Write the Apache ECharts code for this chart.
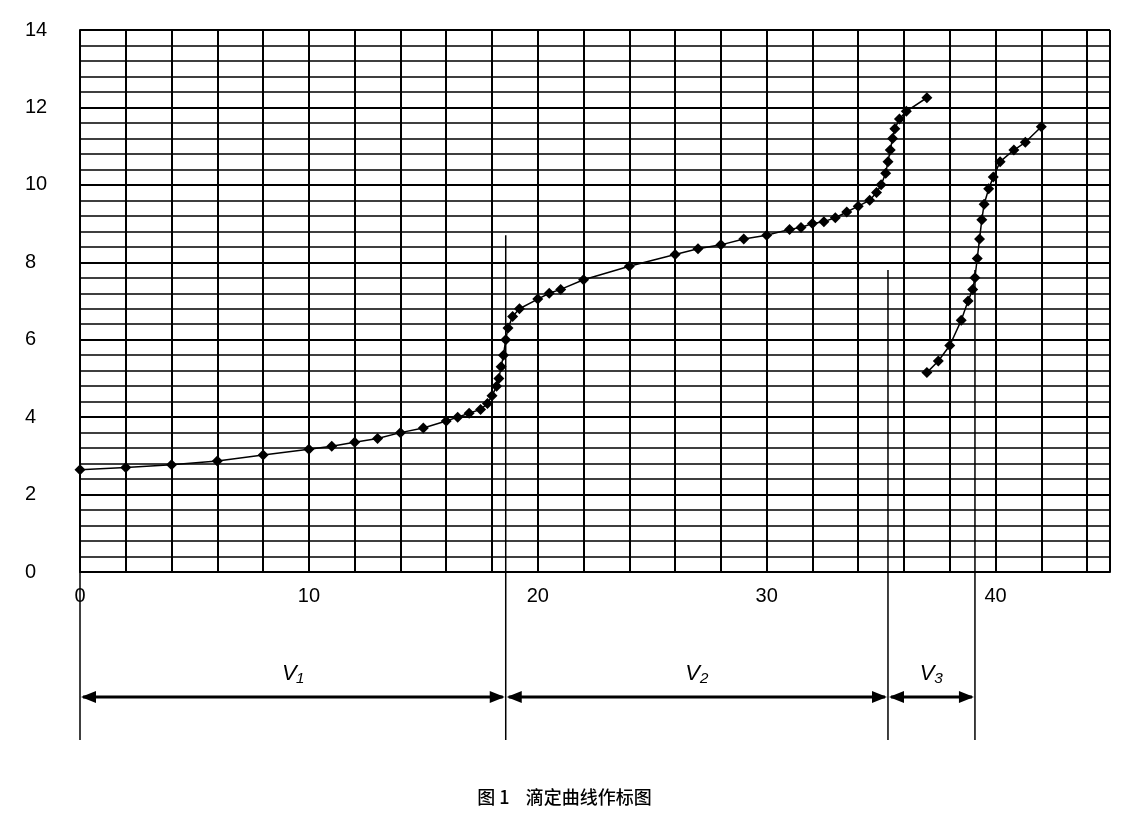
<!DOCTYPE html>
<html><head><meta charset="utf-8">
<script src="https://cdn.jsdelivr.net/npm/echarts@6/dist/echarts.min.js"></script>
<style>html,body{margin:0;padding:0;background:#fff}#c{width:1129px;height:822px}</style>
</head><body><div id="c"></div>
<script>
const curve1X=[0,2,4,6,8,10,11,12,13,14,15,16,16.5,17,17.5,17.8,18,18.2,18.3,18.4,18.5,18.6,18.7,18.9,19.2,20,20.5,21,22,24,26,27,28,29,30,31,31.5,32,32.5,33,33.5,34,34.5,34.8,35,35.2,35.3,35.4,35.5,35.6,35.8,36.1,37];
const curve1Y=[2.64,2.7,2.77,2.87,3.02,3.17,3.25,3.35,3.45,3.6,3.72,3.9,4.0,4.1,4.2,4.35,4.55,4.8,5.0,5.3,5.6,6.0,6.3,6.6,6.8,7.05,7.2,7.3,7.55,7.9,8.2,8.35,8.45,8.6,8.7,8.85,8.9,9.0,9.05,9.15,9.3,9.45,9.6,9.8,10.0,10.3,10.6,10.9,11.2,11.45,11.7,11.9,12.25];
const curve2X=[37.0,37.5,38,38.5,38.8,39,39.1,39.2,39.3,39.4,39.5,39.7,39.9,40.2,40.8,41.3,42.0];
const curve2Y=[5.15,5.45,5.85,6.5,7.0,7.3,7.6,8.1,8.6,9.1,9.5,9.9,10.2,10.6,10.9,11.1,11.5];
const xTicks=[0,10,20,30,40];
const yTicks=[0,2,4,6,8,10,12,14];
const endpoints=[18.6,35.3,39.1];
const segLabels=['V₁','V₂','V₃'];
const pair=(xs,ys)=>xs.map((x,i)=>[x,ys[i]]);
const chart=echarts.init(document.getElementById('c'));
const lbl={color:'#000',fontSize:20,fontFamily:'Liberation Sans'};
const line={lineStyle:{color:'#000',width:2}};
chart.setOption({
 animation:false,
 grid:{left:80,right:19,top:30,bottom:250},
 xAxis:{type:'value',min:0,max:45,interval:10,
  axisLine:{...line,onZero:false},axisTick:{show:false},
  axisLabel:{...lbl,margin:14,formatter:v=>xTicks.includes(v)?String(v):''},
  splitLine:{show:true,...line},
  minorTick:{show:false,splitNumber:5},minorSplitLine:{show:true,lineStyle:{color:'#000',width:2}}},
 yAxis:{type:'value',min:0,max:14,interval:2,
  axisLine:{show:true,...line},axisTick:{show:false},
  axisLabel:{...lbl,margin:55,align:'left',formatter:v=>yTicks.includes(v)?String(v):''},
  splitLine:{show:true,...line},
  minorTick:{show:false,splitNumber:5},minorSplitLine:{show:true,lineStyle:{color:'#000',width:1.5}}},
 series:[
  {type:'line',data:pair(curve1X,curve1Y),symbol:'diamond',symbolSize:11,itemStyle:{color:'#000'},lineStyle:{color:'#000',width:1.5},z:5},
  {type:'line',data:pair(curve2X,curve2Y),symbol:'diamond',symbolSize:11,itemStyle:{color:'#000'},lineStyle:{color:'#000',width:1.5},z:5}
 ]
});
const px=x=>chart.convertToPixel({xAxisIndex:0},x);
const py=y=>chart.convertToPixel({yAxisIndex:0},y);
const g=[];
const xs=[0,...endpoints];
const tops=[py(0),py(8.7),py(7.8),py(7.8)];
const ay=697;
xs.forEach((x,i)=>g.push({type:'line',shape:{x1:px(x),y1:tops[i],x2:px(x),y2:740},style:{stroke:'#000',lineWidth:1.5},z:10}));
for(let i=0;i<3;i++){
 const a=px(xs[i]),b=px(xs[i+1]);
 g.push({type:'line',shape:{x1:a+3,y1:ay,x2:b-3,y2:ay},style:{stroke:'#000',lineWidth:3},z:10});
 g.push({type:'polygon',shape:{points:[[a+1,ay],[a+16,ay-6],[a+16,ay+6]]},style:{fill:'#000'},z:10});
 g.push({type:'polygon',shape:{points:[[b-1,ay],[b-16,ay-6],[b-16,ay+6]]},style:{fill:'#000'},z:10});
 g.push({type:'text',x:(a+b)/2,y:ay-12,style:{text:segLabels[i],font:'italic 22px "Liberation Sans"',fill:'#000',textAlign:'center',textVerticalAlign:'bottom'},z:10});
}
g.push({type:'text',left:'center',top:788,style:{text:'图 1    滴定曲线作标图',font:'500 18px "Noto Sans CJK SC"',fill:'#000'}});
chart.setOption({graphic:g});
</script></body></html>
